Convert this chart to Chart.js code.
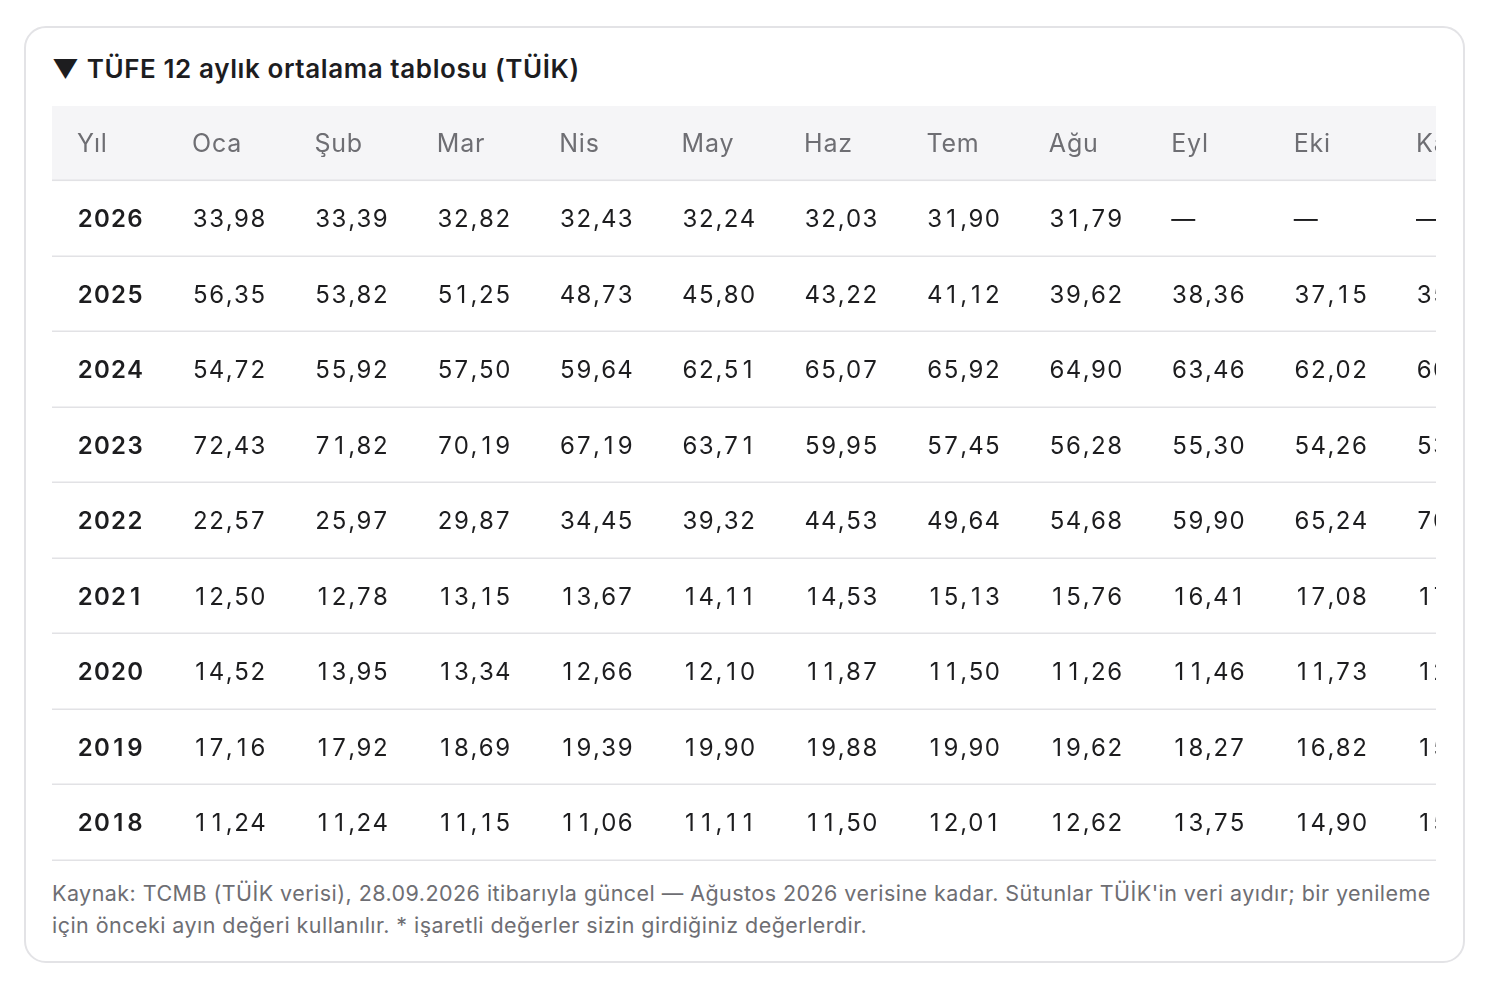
<!DOCTYPE html>
<html><head><meta charset="utf-8">
<script src="https://cdn.jsdelivr.net/npm/chart.js@4"></script>
<style>
body{margin:0;background:#fff;font-family:Inter,"Noto Sans",sans-serif;}
#card{position:absolute;left:24px;top:26px;width:1441px;height:937px;border:2px solid #e3e3e6;border-radius:22px;box-sizing:border-box;}
#title{position:absolute;left:52px;top:53px;font-size:26px;font-weight:600;color:#1d1d1f;letter-spacing:0.6px;}
#wrap{position:absolute;left:52px;top:106px;width:1384px;height:756px;}
#foot{position:absolute;left:52px;top:877px;width:1390px;font-size:21.5px;line-height:32px;color:#6e6e73;letter-spacing:0.45px;}
</style></head><body>
<div id="card"></div>
<div id="title">▼ TÜFE 12 aylık ortalama tablosu (TÜİK)</div>
<div id="wrap"><canvas id="c"></canvas></div>
<div id="foot">Kaynak: TCMB (TÜİK verisi), 28.09.2026 itibarıyla güncel — Ağustos 2026 verisine kadar. Sütunlar TÜİK'in veri ayıdır; bir yenileme için önceki ayın değeri kullanılır. * işaretli değerler sizin girdiğiniz değerlerdir.</div>
<script>
const yearHeader = "Yıl";
const months = ["Oca","Şub","Mar","Nis","May","Haz","Tem","Ağu","Eyl","Eki","Kas","Ara"];
const years = ["2026","2025","2024","2023","2022","2021","2020","2019","2018"];
const v2026 = ["33,98","33,39","32,82","32,43","32,24","32,03","31,90","31,79","—","—","—","—"];
const v2025 = ["56,35","53,82","51,25","48,73","45,80","43,22","41,12","39,62","38,36","37,15","35,96","34,88"];
const v2024 = ["54,72","55,92","57,50","59,64","62,51","65,07","65,92","64,90","63,46","62,02","60,57","58,51"];
const v2023 = ["72,43","71,82","70,19","67,19","63,71","59,95","57,45","56,28","55,30","54,26","53,38","53,86"];
const v2022 = ["22,57","25,97","29,87","34,45","39,32","44,53","49,64","54,68","59,90","65,24","70,39","72,31"];
const v2021 = ["12,50","12,78","13,15","13,67","14,11","14,53","15,13","15,76","16,41","17,08","17,71","19,60"];
const v2020 = ["14,52","13,95","13,34","12,66","12,10","11,87","11,50","11,26","11,46","11,73","12,07","12,28"];
const v2019 = ["17,16","17,92","18,69","19,39","19,90","19,88","19,90","19,62","18,27","16,82","15,73","15,18"];
const v2018 = ["11,24","11,24","11,15","11,06","11,11","11,50","12,01","12,62","13,75","14,90","15,86","16,33"];
const rows = [v2026,v2025,v2024,v2023,v2022,v2021,v2020,v2019,v2018];

const YEAR_X = -0.94;
const pts = [];
pts.push({x:YEAR_X,y:-1,t:yearHeader,k:'h'});
months.forEach((m,i)=>pts.push({x:i,y:-1,t:m,k:'h'}));
years.forEach((yr,r)=>{
  pts.push({x:YEAR_X,y:r,t:yr,k:'y'});
  rows[r].forEach((v,i)=>pts.push({x:i,y:r,t:v,k:'v'}));
});

function drawTab(c,s,x,y,dw,cw){
  let cx=x;
  for(const ch of s){
    if(/[0-9]/.test(ch)){
      const w=c.measureText(ch).width;
      c.fillText(ch,cx+(dw-w)/2,y);cx+=dw;
    } else if(ch===','){
      c.fillText(ch,cx+1,y);cx+=cw;
    } else {c.fillText(ch,cx,y);cx+=c.measureText(ch).width;}
  }
}

const tablePlugin = {
  id:'table',
  beforeDatasetsDraw(ch){
    const c=ch.ctx,ys=ch.scales.y;
    c.save();
    c.fillStyle='#f5f5f7';
    const t=ys.getPixelForValue(ys.min), b=ys.getPixelForValue(-0.5);
    c.fillRect(0,t,ch.width,b-t);
    c.strokeStyle='#e2e2e5';c.lineWidth=1.5;
    for(let r=-0.5;r<years.length;r++){
      const y=Math.round(ys.getPixelForValue(r))-0.75;
      c.beginPath();c.moveTo(0,y);c.lineTo(ch.width,y);c.stroke();
    }
    c.restore();
  },
  afterDatasetsDraw(ch){
    const c=ch.ctx,xs=ch.scales.x,ys=ch.scales.y;
    c.save();c.textBaseline='middle';c.textAlign='left';
    pts.forEach(p=>{
      const px=xs.getPixelForValue(p.x), py=ys.getPixelForValue(p.y)+1;
      if(p.k==='h'){c.font='400 25px Inter';c.fillStyle='#6e6e73';c.letterSpacing='0.8px';c.fillText(p.t,px,py);c.letterSpacing='0px';}
      else if(p.k==='y'){c.font='600 24px Inter';c.fillStyle='#1d1d1f';drawTab(c,p.t,px,py,16.6,8);}
      else {c.font='400 24px Inter';c.fillStyle='#1d1d1f';
        if(p.t==='—'){c.fillText(p.t,px,py);} else drawTab(c,p.t,px,py,16.4,8.5);}
    });
    c.restore();
  }
};

new Chart(document.getElementById('c'),{
  type:'scatter',
  data:{datasets:[{data:pts,pointRadius:0,pointHoverRadius:0}]},
  options:{
    responsive:true,maintainAspectRatio:false,animation:false,
    layout:{padding:0},
    plugins:{legend:{display:false},tooltip:{enabled:false}},
    events:[],
    scales:{
      x:{type:'linear',display:false,min:-1.1438,max:10.163},
      y:{type:'linear',display:false,reverse:true,min:-1.4967,max:8.5166}
    }
  },
  plugins:[tablePlugin]
});
</script>
</body></html>
